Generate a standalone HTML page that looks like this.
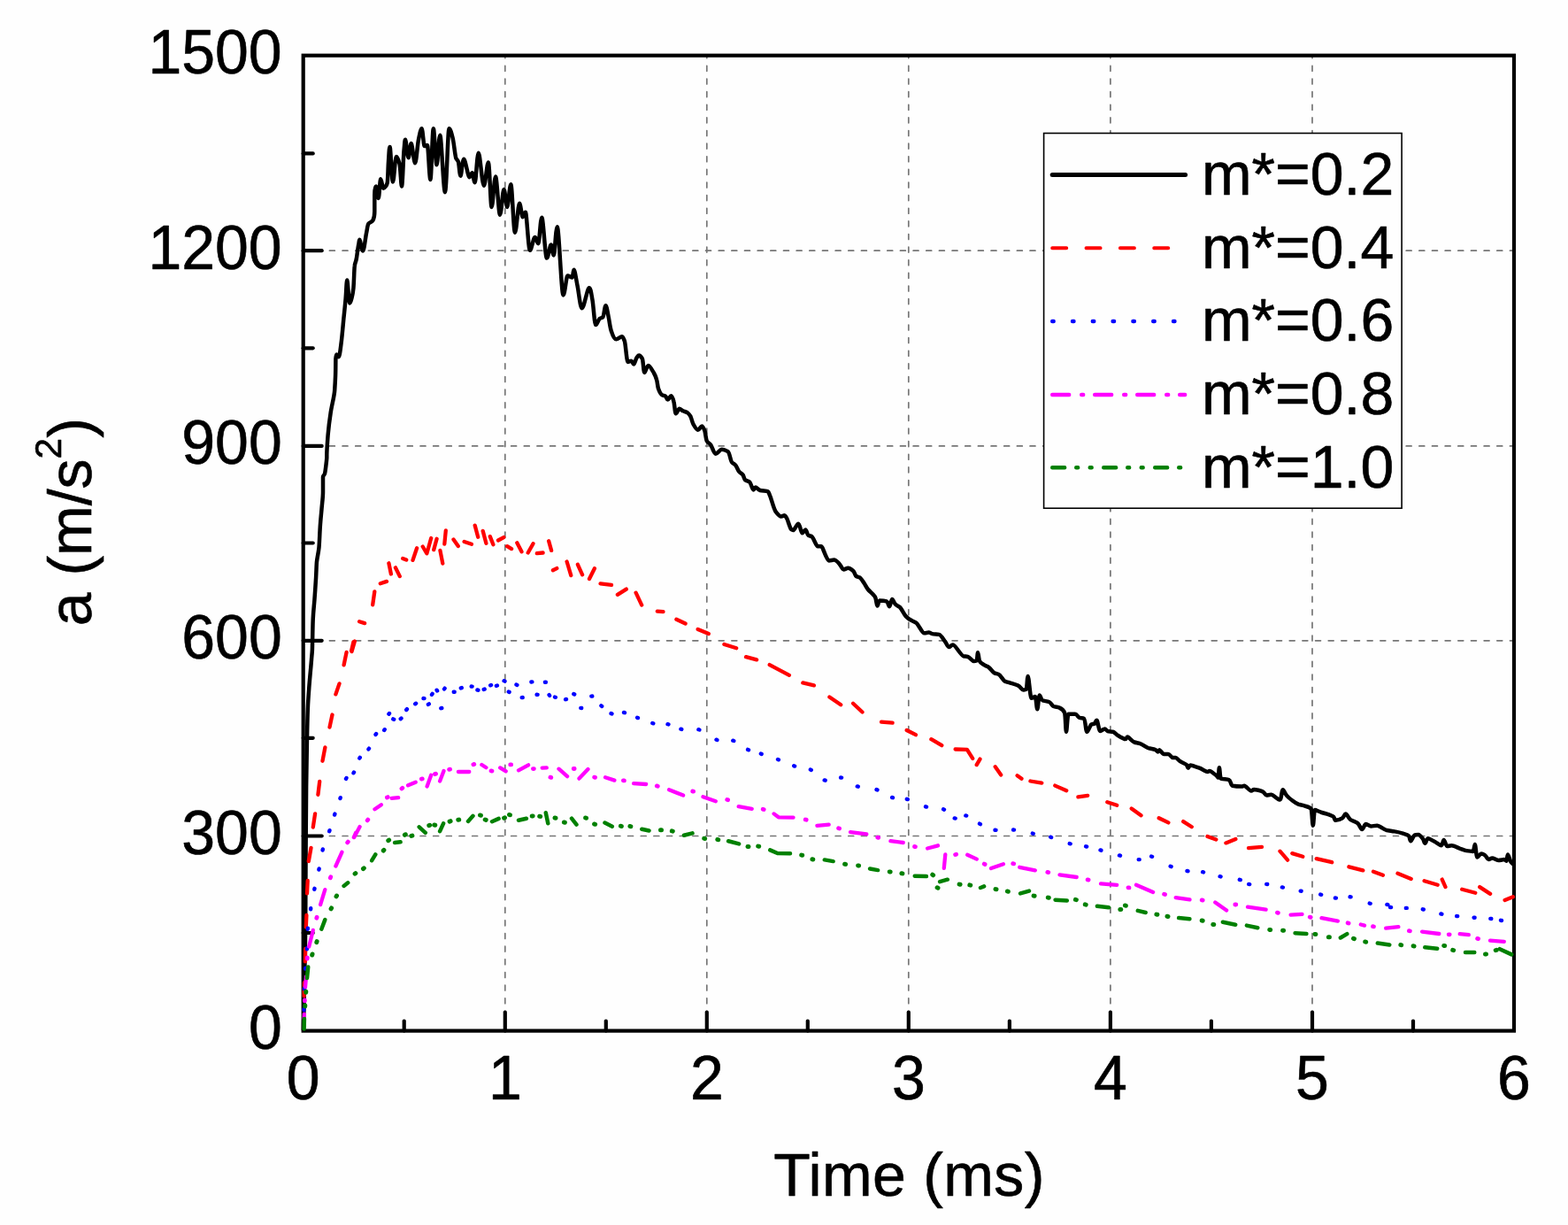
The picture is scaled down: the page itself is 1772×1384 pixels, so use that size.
<!DOCTYPE html>
<html lang="en"><head><meta charset="utf-8"><title>a (m/s2) vs Time (ms)</title>
<style>
html,body{margin:0;padding:0;background:#fff;}
body{width:1772px;height:1384px;overflow:hidden;}
svg{display:block;}
text{font-family:"Liberation Sans", sans-serif;font-size:68px;fill:#000;stroke:#000;stroke-width:0.6px;stroke-linejoin:round;}
.grid{stroke:#767676;stroke-width:1.7;stroke-linecap:round;fill:none;}
.gv{stroke-dasharray:5.9 8.73;stroke-dashoffset:2.95;}
.gh{stroke-dasharray:5.9 8.76;stroke-dashoffset:14.26;}
.axis{stroke:#000;stroke-width:4.2;fill:none;}
.tick{stroke:#000;stroke-width:4.2;stroke-linecap:round;fill:none;}
.curve{fill:none;stroke-linejoin:round;stroke-linecap:round;}
</style></head><body>
<svg width="1772" height="1384" viewBox="0 0 1772 1384">
<rect x="0" y="0" width="1772" height="1384" fill="#fefefe"/>
<g class="grid">
<line class="gv" x1="570.8" y1="62.7" x2="570.8" y2="1164.6"/>
<line class="gv" x1="798.8" y1="62.7" x2="798.8" y2="1164.6"/>
<line class="gv" x1="1026.8" y1="62.7" x2="1026.8" y2="1164.6"/>
<line class="gv" x1="1254.9" y1="62.7" x2="1254.9" y2="1164.6"/>
<line class="gv" x1="1483.0" y1="62.7" x2="1483.0" y2="1164.6"/>
<line class="gh" x1="342.7" y1="944.5" x2="1711.0" y2="944.5"/>
<line class="gh" x1="342.7" y1="723.8" x2="1711.0" y2="723.8"/>
<line class="gh" x1="342.7" y1="503.9" x2="1711.0" y2="503.9"/>
<line class="gh" x1="342.7" y1="283.2" x2="1711.0" y2="283.2"/>
</g>
<rect class="axis" x="342.7" y="62.7" width="1368.3" height="1101.9"/>
<g class="tick">
<line x1="456.7" y1="1164.6" x2="456.7" y2="1153.6"/>
<line x1="570.8" y1="1164.6" x2="570.8" y2="1143.6"/>
<line x1="684.8" y1="1164.6" x2="684.8" y2="1153.6"/>
<line x1="798.8" y1="1164.6" x2="798.8" y2="1143.6"/>
<line x1="912.8" y1="1164.6" x2="912.8" y2="1153.6"/>
<line x1="1026.8" y1="1164.6" x2="1026.8" y2="1143.6"/>
<line x1="1140.9" y1="1164.6" x2="1140.9" y2="1153.6"/>
<line x1="1254.9" y1="1164.6" x2="1254.9" y2="1143.6"/>
<line x1="1368.9" y1="1164.6" x2="1368.9" y2="1153.6"/>
<line x1="1483.0" y1="1164.6" x2="1483.0" y2="1143.6"/>
<line x1="1597.0" y1="1164.6" x2="1597.0" y2="1153.6"/>
<line x1="342.7" y1="1054.0" x2="353.7" y2="1054.0"/>
<line x1="342.7" y1="944.5" x2="363.7" y2="944.5"/>
<line x1="342.7" y1="833.8" x2="353.7" y2="833.8"/>
<line x1="342.7" y1="723.8" x2="363.7" y2="723.8"/>
<line x1="342.7" y1="613.5" x2="353.7" y2="613.5"/>
<line x1="342.7" y1="503.9" x2="363.7" y2="503.9"/>
<line x1="342.7" y1="393.3" x2="353.7" y2="393.3"/>
<line x1="342.7" y1="283.2" x2="363.7" y2="283.2"/>
<line x1="342.7" y1="173.4" x2="353.7" y2="173.4"/>
</g>
<g class="curve">
<path d="M342.9 1163.5C342.9 1163.5 343.0 1157.5 343.2 1151.6C343.4 1145.7 344.0 1110.7 344.4 1092.4C344.7 1074.0 345.1 1064.1 345.2 1041.6C345.4 1019.0 345.4 982.3 345.6 956.9C345.7 931.5 345.9 909.0 346.1 889.3C346.3 869.6 346.6 853.2 346.9 838.5C347.2 823.8 347.4 812.0 347.8 801.3C348.2 790.5 348.8 783.5 349.5 774.2C350.2 764.9 351.6 751.2 352.0 745.4C352.4 739.6 352.6 739.6 352.9 733.8C353.1 728.0 353.3 709.1 353.7 699.8C354.1 690.4 354.8 685.7 355.4 677.8C356.0 669.9 356.7 659.4 357.1 652.4C357.5 645.3 357.5 641.1 357.9 635.4C358.4 629.8 359.8 625.3 360.5 618.5C361.1 611.7 361.3 601.9 361.8 594.8C362.3 587.7 362.8 582.7 363.4 576.2C363.9 569.7 365.0 562.1 365.0 555.9C365.0 549.7 365.0 540.6 365.0 538.9C365.0 537.2 366.2 537.2 366.9 535.5C367.6 533.9 369.3 518.5 369.3 516.9C369.3 515.4 369.3 515.4 369.3 513.8C369.3 512.2 370.0 499.5 370.6 491.6C371.3 483.7 372.4 474.7 373.7 466.2C374.9 457.8 377.8 447.9 378.2 440.8C378.7 433.8 378.9 429.8 379.1 423.9C379.3 418.0 379.3 407.7 379.4 405.3C379.6 402.9 379.9 400.5 380.3 400.5C380.7 400.5 381.9 403.2 382.8 403.2C383.7 403.2 384.6 395.6 385.5 388.4C386.5 381.1 387.6 368.0 388.4 359.6C389.3 351.1 390.0 344.7 390.6 337.6C391.3 330.4 391.5 316.6 392.3 316.6C393.1 316.6 394.0 342.6 395.2 342.6C396.4 342.6 398.7 332.8 399.4 325.7C400.1 318.7 400.2 303.9 400.8 300.3C401.3 296.7 401.9 296.7 402.7 293.1C403.4 289.4 404.5 279.6 405.2 276.6C405.8 273.7 405.8 270.8 406.4 270.8C407.1 270.8 408.9 283.5 410.2 283.5C411.4 283.5 412.9 269.2 413.9 264.1C415.0 259.0 415.2 254.7 416.4 252.8C417.7 250.9 420.5 250.9 421.4 249.1C422.4 247.2 423.3 243.9 423.3 239.1C423.3 234.2 423.3 225.0 423.3 220.2C423.3 215.5 424.2 210.5 425.0 210.5C425.7 210.5 426.8 224.0 427.7 224.0C428.6 224.0 429.3 202.3 430.2 202.3C431.2 202.3 432.1 212.7 433.4 212.7C434.6 212.7 437.1 209.6 437.7 206.5C438.4 203.3 438.5 189.4 439.0 182.7C439.5 175.9 439.8 165.9 440.6 165.9C441.4 165.9 442.8 205.5 444.0 205.5C445.2 205.5 446.5 177.1 447.8 177.1C449.0 177.1 450.5 181.1 451.5 185.2C452.6 189.2 453.2 210.6 454.0 210.6C454.9 210.6 455.9 176.3 456.5 170.1C457.2 163.9 457.3 157.7 458.1 157.7C458.8 157.7 460.4 178.3 461.6 178.3C462.7 178.3 463.4 162.1 464.7 162.1C465.9 162.1 467.7 184.2 469.1 184.2C470.4 184.2 471.6 165.3 472.8 158.8C474.1 152.4 475.4 145.2 476.6 145.2C477.7 145.2 478.7 165.1 479.7 165.1C480.8 165.1 481.8 163.9 482.9 163.9C484.0 163.9 485.2 203.0 486.4 203.0C487.5 203.0 488.6 145.2 489.8 145.2C490.9 145.2 492.3 186.2 493.5 186.2C494.8 186.2 495.7 152.7 497.3 152.7C498.8 152.7 501.2 217.2 502.9 217.2C504.6 217.2 506.1 145.2 507.5 145.2C509.0 145.2 510.4 150.8 511.7 156.3C513.0 161.9 514.4 177.0 515.4 178.9C516.5 180.8 517.1 180.8 517.9 182.7C518.8 184.5 519.4 198.7 520.5 198.7C521.5 198.7 522.5 179.7 524.2 179.7C525.9 179.7 528.9 200.2 530.5 200.2C532.0 200.2 532.6 195.2 533.6 195.2C534.7 195.2 535.5 206.2 536.7 206.2C537.9 206.2 539.1 172.8 540.8 172.8C542.4 172.8 544.9 209.7 546.8 209.7C548.6 209.7 550.3 183.4 551.8 183.4C553.3 183.4 554.3 233.9 555.6 233.9C557.0 233.9 558.5 199.6 560.0 199.6C561.6 199.6 563.5 242.7 565.0 242.7C566.6 242.7 568.1 214.0 569.4 214.0C570.8 214.0 571.9 233.9 573.2 233.9C574.5 233.9 575.9 208.3 577.3 208.3C578.8 208.3 580.3 262.7 582.0 262.7C583.6 262.7 585.5 229.7 587.0 229.7C588.4 229.7 589.6 245.2 590.7 245.2C591.9 245.2 592.5 239.7 593.9 239.7C595.2 239.7 597.1 282.8 598.9 282.8C600.6 282.8 602.9 268.0 604.5 268.0C606.1 268.0 607.0 275.3 608.3 275.3C609.6 275.3 610.7 245.7 612.3 245.7C613.9 245.7 616.2 291.6 617.9 291.6C619.7 291.6 621.4 276.5 622.7 276.5C624.0 276.5 624.6 288.4 625.8 288.4C627.0 288.4 628.0 256.3 629.8 256.3C631.6 256.3 634.5 333.5 636.5 333.5C638.4 333.5 639.8 311.6 641.5 311.6C643.1 311.6 645.4 313.5 646.5 313.5C647.6 313.5 647.6 304.7 648.6 304.7C649.6 304.7 651.0 315.3 652.5 322.5C654.1 329.8 655.6 348.2 657.8 348.2C660.0 348.2 663.8 325.2 665.7 325.2C667.6 325.2 668.2 332.0 669.5 338.8C670.7 345.6 671.9 367.0 673.2 367.0C674.6 367.0 676.2 361.1 677.6 360.1C678.9 359.2 680.2 359.2 681.4 358.2C682.5 357.3 683.4 345.2 684.5 345.2C685.5 345.2 686.6 352.8 687.6 357.6C688.7 362.4 689.3 369.6 690.8 373.9C692.2 378.2 694.4 383.3 696.4 383.3C698.4 383.3 701.1 380.2 702.7 380.2C704.2 380.2 704.6 382.7 705.8 385.2C706.9 387.7 708.3 409.0 709.5 409.0C710.8 409.0 712.2 407.7 713.3 407.7C714.4 407.7 715.1 411.5 716.2 411.5C717.2 411.5 718.6 405.2 719.6 404.0C720.6 402.8 721.0 401.6 722.1 401.6C723.1 401.6 724.8 403.4 725.8 405.2C726.9 407.1 727.2 420.9 728.4 420.9C729.5 420.9 731.0 412.9 732.7 412.9C734.5 412.9 737.4 418.8 739.0 421.5C740.6 424.2 741.3 426.1 742.1 429.1C743.0 432.0 743.1 436.3 744.0 439.1C745.0 441.9 746.4 445.0 747.8 446.0C749.1 446.9 751.0 446.9 752.2 447.8C753.3 448.8 753.6 451.6 754.7 451.6C755.7 451.6 757.3 447.3 758.4 447.3C759.6 447.3 760.7 450.8 761.5 454.1C762.4 457.4 762.8 467.3 763.8 467.3C764.9 467.3 766.5 461.8 767.8 461.8C769.1 461.8 770.1 463.4 771.6 464.1C773.0 464.9 775.1 465.1 776.6 466.0C778.1 467.0 779.2 468.2 780.4 470.4C781.5 472.6 782.1 476.6 783.5 479.2C784.9 481.7 787.2 485.7 788.8 485.7C790.4 485.7 791.9 481.4 793.2 481.4C794.4 481.4 795.3 483.9 796.3 486.3C797.2 488.8 797.7 496.1 798.8 498.2C799.9 500.4 801.5 500.4 803.2 502.6C804.8 504.8 806.7 512.7 808.8 512.7C810.9 512.7 813.4 507.8 815.7 507.8C818.0 507.8 820.7 509.0 822.6 510.1C824.5 511.3 825.5 520.2 827.0 522.1C828.5 523.9 830.0 524.0 831.4 525.8C832.7 527.6 833.8 530.9 835.1 532.7C836.5 534.5 838.4 534.9 839.5 536.5C840.7 538.0 840.8 540.9 842.0 542.1C843.3 543.4 845.5 543.4 847.0 544.6C848.6 545.9 850.3 553.4 851.4 553.4C852.6 553.4 852.7 550.4 853.9 550.4C855.2 550.4 856.7 553.4 859.0 554.0C861.2 554.6 866.5 554.6 867.7 555.3C869.0 555.9 869.0 557.8 870.2 560.3C871.5 562.8 874.4 575.0 876.5 577.8C878.6 580.6 881.1 583.5 882.8 583.5C884.4 583.5 885.5 582.2 886.5 582.2C887.6 582.2 887.8 583.8 889.0 585.3C890.3 586.9 892.8 597.2 894.0 597.9C895.3 598.5 895.3 599.1 896.5 599.1C897.8 599.1 900.5 591.7 902.2 591.7C903.9 591.7 905.2 602.3 906.6 602.3C907.9 602.3 909.2 598.6 910.3 598.6C911.5 598.6 912.3 604.1 913.5 604.8C914.6 605.4 915.4 605.4 917.2 606.0C919.0 606.6 922.3 617.3 924.1 617.3C925.9 617.3 927.2 617.3 927.9 617.3C928.5 617.3 928.5 617.8 929.2 618.4C929.9 618.9 934.5 633.4 936.7 633.4C938.9 633.4 940.6 632.6 942.5 632.6C944.5 632.6 946.6 634.9 948.4 636.8C950.2 638.6 951.7 643.4 953.4 643.4C955.1 643.4 956.6 641.8 958.4 641.8C960.2 641.8 962.7 643.6 964.3 645.1C965.8 646.6 966.4 650.1 967.6 651.0C968.9 651.8 970.3 651.8 971.8 652.6C973.3 653.5 975.3 657.1 976.8 659.3C978.3 661.5 978.9 663.3 981.0 666.0C983.1 668.6 988.2 672.1 989.3 675.2C990.4 678.2 990.7 684.4 991.5 684.4C992.3 684.4 992.9 678.5 994.3 678.5C995.8 678.5 1000.2 678.9 1001.9 679.4C1003.5 679.8 1004.1 685.2 1005.2 685.2C1006.3 685.2 1007.1 677.0 1008.2 677.0C1009.3 677.0 1010.4 681.2 1011.9 682.7C1013.3 684.2 1014.9 684.4 1016.9 686.0C1018.8 687.7 1021.6 694.0 1023.6 696.1C1025.5 698.1 1026.6 699.0 1028.6 700.2C1030.5 701.5 1032.6 701.9 1035.3 703.6C1037.9 705.3 1042.1 715.3 1044.5 715.3C1046.8 715.3 1047.9 714.4 1049.5 714.4C1051.0 714.4 1051.7 715.7 1053.7 716.1C1055.6 716.5 1058.8 716.5 1061.2 716.9C1063.5 717.4 1066.0 722.1 1067.8 724.5C1069.7 726.8 1070.8 731.1 1072.4 731.1C1073.9 731.1 1074.7 728.6 1077.0 728.6C1079.4 728.6 1086.2 740.7 1088.7 741.2C1091.2 741.6 1091.8 741.6 1093.7 742.0C1095.7 742.4 1098.8 747.0 1100.4 747.0C1102.1 747.0 1103.1 746.6 1103.8 746.2C1104.4 745.8 1104.5 737.3 1105.1 737.3C1105.7 737.3 1106.1 744.9 1107.1 747.0C1108.1 749.1 1110.4 750.1 1112.1 751.2C1113.8 752.3 1115.2 752.4 1117.1 753.7C1119.1 754.9 1121.9 759.5 1123.8 760.4C1125.8 761.2 1126.9 761.2 1128.8 762.0C1130.8 762.9 1133.6 768.7 1135.5 769.6C1137.4 770.4 1138.0 770.4 1140.5 771.2C1143.0 772.1 1147.9 773.2 1150.5 774.6C1153.2 776.0 1154.8 779.6 1156.4 779.6C1157.9 779.6 1158.8 779.2 1159.7 778.8C1160.6 778.3 1160.8 764.0 1161.7 764.0C1162.7 764.0 1164.2 788.8 1165.6 788.8C1166.9 788.8 1168.6 787.1 1169.8 787.1C1170.9 787.1 1171.4 801.3 1172.3 801.3C1173.1 801.3 1173.8 785.4 1174.8 785.4C1175.7 785.4 1176.4 790.4 1178.1 791.3C1179.8 792.1 1183.5 792.1 1185.6 793.0C1187.7 793.8 1188.7 797.1 1190.6 798.0C1192.6 798.8 1195.2 798.8 1197.3 799.6C1199.4 800.5 1202.2 802.6 1203.2 805.5C1204.1 808.4 1204.3 826.8 1205.0 826.8C1205.7 826.8 1206.3 806.8 1207.5 806.8C1208.8 806.8 1213.0 806.8 1215.0 806.8C1217.1 806.8 1218.4 810.5 1220.0 810.9C1221.7 811.3 1223.7 811.3 1225.1 811.8C1226.5 812.2 1227.0 826.8 1228.4 826.8C1229.8 826.8 1232.0 818.9 1233.4 818.5C1234.8 818.0 1235.7 818.0 1236.8 817.6C1237.8 817.2 1238.3 813.8 1239.4 813.8C1240.5 813.8 1241.9 826.0 1243.4 826.0C1244.9 826.0 1247.1 823.5 1248.5 823.5C1249.8 823.5 1250.3 825.5 1251.8 826.0C1253.3 826.4 1255.7 826.4 1257.6 826.8C1259.6 827.2 1261.1 829.6 1263.5 831.0C1265.8 832.4 1270.6 835.1 1271.8 835.1C1273.1 835.1 1273.1 832.6 1274.3 832.6C1275.6 832.6 1279.5 837.7 1281.9 838.5C1284.2 839.3 1285.9 839.3 1288.5 840.2C1291.2 841.0 1294.9 844.3 1297.7 845.2C1300.5 846.0 1303.6 846.2 1305.2 846.9C1306.9 847.5 1307.8 849.4 1308.6 849.4C1309.4 849.4 1309.4 847.2 1310.3 847.2C1311.1 847.2 1313.6 851.9 1315.3 851.9C1316.9 851.9 1318.6 851.9 1320.3 851.9C1322.0 851.9 1323.9 856.0 1325.3 856.0C1326.7 856.0 1327.2 856.0 1328.6 856.0C1330.0 856.0 1331.6 858.8 1333.7 860.2C1335.7 861.6 1340.3 863.1 1341.2 864.4C1342.0 865.6 1342.1 867.7 1342.8 867.7C1343.5 867.7 1344.1 864.4 1345.3 864.4C1346.6 864.4 1352.2 866.5 1355.4 867.7C1358.6 869.0 1363.3 871.9 1364.5 871.9C1365.8 871.9 1365.8 871.1 1367.1 871.1C1368.3 871.1 1374.7 876.1 1375.4 876.9C1376.1 877.8 1376.3 878.6 1376.8 878.6C1377.2 878.6 1377.4 867.2 1377.9 867.2C1378.4 867.2 1378.8 878.6 1379.6 879.4C1380.4 880.3 1386.7 880.3 1388.8 881.1C1390.9 881.9 1390.9 887.3 1393.0 887.8C1395.0 888.2 1401.3 888.6 1403.0 888.6C1404.6 888.6 1404.6 887.8 1406.3 887.8C1408.0 887.8 1412.2 893.6 1413.8 893.6C1415.5 893.6 1415.5 892.0 1417.2 892.0C1418.8 892.0 1425.1 893.3 1427.2 894.5C1429.3 895.6 1429.8 898.6 1431.4 898.6C1432.9 898.6 1434.0 897.8 1436.4 897.8C1438.7 897.8 1444.7 903.6 1445.6 903.6C1446.4 903.6 1446.5 903.2 1447.2 902.8C1447.9 902.4 1448.6 892.3 1449.8 892.3C1450.9 892.3 1452.1 896.6 1453.9 898.6C1455.7 900.7 1458.4 902.8 1460.6 904.5C1462.8 906.2 1465.1 907.8 1467.3 908.7C1469.5 909.5 1471.6 909.5 1474.0 910.3C1476.3 911.2 1480.3 912.0 1481.5 913.7C1482.7 915.3 1483.1 932.7 1483.8 932.7C1484.6 932.7 1484.9 915.1 1486.0 915.1C1487.1 915.1 1490.2 916.8 1492.7 917.6C1495.2 918.5 1498.7 919.3 1501.1 920.1C1503.4 921.0 1505.7 921.5 1506.9 922.6C1508.2 923.8 1508.2 926.8 1509.4 926.8C1510.7 926.8 1515.0 925.5 1516.9 924.3C1518.8 923.1 1519.2 919.6 1520.8 919.6C1522.3 919.6 1523.8 924.2 1526.1 926.0C1528.4 927.7 1532.3 928.3 1534.5 930.2C1536.6 932.0 1537.6 936.9 1539.2 936.9C1540.7 936.9 1541.9 931.0 1543.7 931.0C1545.4 931.0 1547.4 933.5 1549.5 933.5C1551.6 933.5 1553.4 932.7 1556.2 932.7C1559.0 932.7 1562.9 936.8 1566.2 937.7C1569.5 938.5 1572.9 938.7 1576.2 939.4C1579.6 940.0 1583.6 941.0 1586.3 941.9C1588.9 942.7 1591.0 943.1 1592.1 944.4C1593.2 945.6 1593.2 950.2 1594.3 950.2C1595.4 950.2 1597.3 943.8 1598.8 943.5C1600.2 943.3 1601.4 943.0 1603.0 943.0C1604.5 943.0 1606.7 946.1 1608.0 947.7C1609.2 949.3 1609.5 952.7 1610.5 952.7C1611.5 952.7 1612.2 947.2 1613.8 947.2C1615.5 947.2 1620.5 950.5 1623.0 951.9C1625.5 953.2 1627.4 955.2 1628.9 955.2C1630.3 955.2 1630.6 948.9 1631.7 948.9C1632.8 948.9 1634.1 956.1 1635.5 956.1C1637.0 956.1 1638.2 955.2 1640.5 955.2C1642.9 955.2 1647.0 957.6 1649.7 958.6C1652.5 959.5 1654.8 960.7 1657.3 961.1C1659.8 961.5 1663.8 961.9 1664.8 961.9C1665.8 961.9 1666.0 953.9 1666.8 953.9C1667.6 953.9 1668.3 968.6 1669.5 968.6C1670.6 968.6 1672.5 964.4 1674.0 964.4C1675.4 964.4 1676.7 965.2 1678.1 966.1C1679.5 966.9 1680.9 971.1 1682.3 971.1C1683.7 971.1 1684.7 969.4 1686.5 969.4C1688.3 969.4 1690.9 971.9 1693.2 971.9C1695.4 971.9 1698.6 971.1 1699.9 971.1C1701.1 971.1 1701.7 972.8 1702.4 972.8C1703.1 972.8 1703.2 965.6 1704.0 965.6C1704.9 965.6 1706.4 972.4 1707.4 973.6C1708.3 974.9 1709.9 976.1 1709.9 976.1" stroke="#000" stroke-width="4.5"/>
<path d="M343.9 1110.1 L343.6 1125.4M345.2 1072.0 L344.9 1086.4M346.4 1034.0 L345.8 1047.5M347.7 995.0 L347.0 1009.4M351.5 957.8 L348.8 973.0M356.1 919.3 L353.8 934.5M361.2 883.0 L359.4 897.8M367.4 844.4 L364.5 859.7M375.5 807.5 L372.5 821.6M383.5 772.4 L379.4 784.4M391.6 736.9 L388.6 751.3M399.5 725.1 L397.1 735.3M400.9 724.5 L397.5 736.1M406.1 702.2 L412.1 704.1M423.3 668.4 L421.2 683.3M429.8 659.2 L437.0 656.9M439.4 636.3 L441.9 648.5M446.9 641.3 L451.8 651.1M455.2 631.0 L459.2 632.6M471.1 619.3 L466.5 632.9M477.7 617.5 L482.4 625.3 L487.2 608.0M493.6 608.8 L490.2 621.1M497.4 621.9 L500.3 636.6M503.8 599.4 L502.3 614.6M512.5 609.4 L517.8 617.0M524.6 612.0 L532.9 614.8M536.7 593.6 L540.2 606.7M545.7 599.9 L549.4 613.8M553.8 606.1 L557.4 615.2M563.0 610.5 L569.3 607.1M573.2 617.2 L578.1 620.1M584.3 613.3 L589.5 623.3M602.5 614.2 L596.7 624.5M606.8 625.2 L613.6 624.5M620.1 611.2 L623.1 621.9M624.9 644.2 L629.3 642.1M640.6 634.5 L645.3 650.1M652.9 637.8 L658.1 649.3M671.9 642.2 L666.0 654.0M678.5 659.4 L691.0 660.9M697.9 671.9 L707.8 665.6M718.6 669.7 L725.2 683.6M742.8 690.6 L749.5 691.1M764.4 699.7 L774.6 704.5M788.7 710.9 L800.8 716.1M818.4 728.0 L832.2 732.2M843.0 742.2 L855.1 745.4M869.7 751.1 L891.9 762.8M907.3 771.4 L919.9 774.4M937.4 787.5 L950.2 796.2M964.1 794.8 L974.5 804.5M996.0 815.6 L1008.6 816.7M1024.7 825.0 L1034.9 830.2M1052.4 835.2 L1064.3 842.2M1079.6 846.5 L1092.9 846.8 L1099.2 856.9M1107.5 857.6 L1103.7 864.1M1124.7 866.2 L1131.2 875.4M1149.6 876.2 L1154.5 879.7M1164.4 882.5 L1177.3 884.6M1192.3 887.6 L1205.2 893.2M1218.4 900.4 L1229.2 898.9M1251.3 906.2 L1262.2 909.8M1278.7 913.4 L1289.5 921.3M1309.7 924.2 L1320.4 929.4M1337.2 928.1 L1346.8 934.2M1364.5 945.0 L1374.3 948.6M1396.4 948.0 L1385.4 952.4M1411.0 958.1 L1426.0 956.9M1446.5 961.7 L1455.1 971.6M1460.3 964.1 L1472.3 967.8M1487.7 970.1 L1505.2 974.2M1524.4 979.3 L1540.3 983.4M1552.0 984.7 L1562.9 988.7M1579.5 986.8 L1594.7 993.0M1609.6 995.2 L1624.7 999.7M1629.7 993.6 L1633.5 1002.1M1652.2 1004.7 L1667.3 1008.8M1672.2 1002.1 L1684.1 1009.9M1700.6 1017.0 L1709.9 1013.2" stroke="#ff0000" stroke-width="4.3"/>
<path d="M343.5 1141.1L343.5 1140.1M343.9 1117.4L343.9 1116.4M345.2 1094.5L345.3 1093.6M346.9 1072.2L347.0 1071.2M347.7 1049.7L347.8 1048.7M351.1 1027.2L351.2 1026.2M355.3 1004.8L355.5 1003.8M360.4 982.5L360.6 981.5M364.6 960.5L364.8 959.5M372.2 939.2L372.5 938.2M378.1 920.6L378.4 919.6M384.4 902.1L384.7 901.2M391.0 879.9L391.5 879.0M399.5 873.3L400.0 872.5M406.3 856.7L406.8 855.9M416.4 846.5L417.0 845.7M424.5 829.9L425.1 829.1M434.2 825.0L434.7 824.2M439.4 806.7L440.0 806.0M444.3 812.4L445.2 812.8M452.7 812.2L453.5 811.6M459.2 802.0L459.9 801.2M469.2 795.3L470.1 794.7M478.5 789.0L479.5 789.1M483.9 795.9L484.8 795.4M488.0 784.8L488.6 783.9M493.6 779.7L494.1 780.5M498.3 800.2L499.3 800.0M502.0 778.5L502.6 777.7M512.7 781.8L513.7 781.8M520.8 777.4L521.8 777.1M532.7 775.5L533.6 775.6M539.4 779.5L540.4 779.7M546.7 778.9L547.7 778.6M554.2 774.3L555.1 774.0M560.9 774.8L561.9 774.5M569.6 769.2L570.5 769.7M574.7 781.6L575.6 781.9M583.5 773.5L584.4 773.9M589.7 788.1L590.7 788.0M600.4 770.5L601.4 770.4M606.6 784.8L607.6 784.9M615.9 770.8L616.9 770.8M620.6 785.1L621.1 785.9M627.0 787.6L627.9 787.8M639.1 790.2L640.0 790.0M648.3 784.0L649.2 784.5M656.3 799.9L657.2 800.0M668.3 786.6L669.3 786.5M679.4 797.3L680.2 797.9M690.5 806.1L691.5 806.4M705.0 805.0L706.0 805.2M720.1 810.8L721.0 811.1M737.3 817.0L738.3 817.3M754.5 818.2L755.5 818.4M769.4 823.7L770.3 823.9M789.4 824.2L790.4 824.5M809.5 835.7L810.4 836.0M828.3 836.7L829.3 837.0M845.1 846.9L846.0 847.3M859.8 851.6L860.7 851.9M879.0 858.0L879.9 858.3M897.2 865.3L898.1 865.6M915.9 869.5L916.8 869.9M931.7 881.4L932.7 881.7M950.1 878.5L951.1 878.6M968.8 888.4L969.8 888.7M990.5 892.1L991.5 892.4M1008.1 901.0L1009.0 901.2M1024.8 902.8L1025.8 903.1M1046.0 911.3L1047.0 911.6M1066.1 914.3L1067.0 914.7M1078.7 924.4L1079.7 924.6M1091.3 921.4L1092.2 921.6M1107.0 930.6L1107.9 931.1M1124.5 937.8L1125.5 937.9M1145.1 937.5L1146.0 937.6M1166.8 941.6L1167.8 941.8M1187.2 945.7L1188.1 946.0M1208.7 953.1L1209.7 953.3M1227.1 956.3L1228.1 956.5M1243.5 960.4L1244.4 960.7M1265.0 966.4L1266.0 966.7M1286.7 971.1L1287.7 971.1M1301.1 967.6L1302.1 967.8M1322.7 978.7L1323.6 979.1M1341.5 984.0L1342.5 984.2M1359.1 985.2L1360.1 985.4M1378.6 990.2L1379.6 990.4M1400.8 993.8L1401.8 994.1M1411.2 998.9L1412.2 999.1M1431.2 998.9L1432.2 999.0M1448.9 1002.4L1449.9 1002.6M1469.7 1006.6L1470.6 1006.7M1492.2 1010.6L1493.2 1010.8M1508.9 1014.5L1509.9 1014.6M1525.6 1013.3L1526.6 1013.4M1547.7 1020.6L1548.7 1020.8M1567.4 1021.9L1568.4 1022.1M1571.1 1025.0L1572.1 1025.1M1588.8 1025.9L1589.8 1025.9M1607.8 1027.3L1608.8 1027.5M1628.4 1032.5L1629.4 1032.7M1646.2 1035.0L1647.2 1035.1M1665.6 1036.7L1666.6 1036.8M1684.3 1037.9L1685.3 1038.0M1696.0 1039.8L1697.0 1040.0" stroke="#0000ff" stroke-width="4.4"/>
<path d="M343.8 1145.7 L343.6 1150.8M346.0 1103.4 L345.0 1115.2M353.8 1050.9 L349.2 1069.5M367.3 1005.1 L362.1 1022.1M386.4 962.8 L379.4 978.5M402.1 940.8 L399.8 946.0M400.2 946.1 L406.6 934.1M423.5 914.2 L430.9 909.2M442.6 901.9 L450.2 901.2M461.1 887.3 L469.7 883.7M482.6 888.5 L487.2 875.7M497.1 882.6 L501.5 871.0M517.9 872.0 L530.3 872.0M544.4 864.0 L549.4 867.2M565.2 867.4 L571.7 871.4M586.0 870.3 L597.1 864.3M612.7 867.7 L617.8 867.3M631.5 868.7 L641.1 877.1M664.5 869.1 L654.5 879.6M684.0 878.3 L694.4 881.6M716.1 885.2 L730.2 886.0M756.1 892.2 L772.1 898.6M794.5 900.2 L808.8 905.3M834.7 911.2 L849.7 913.8M874.6 919.4 L879.8 923.3 L896.5 923.6M923.4 932.8 L936.7 931.7M961.0 940.1 L979.3 942.4M1006.4 950.2 L1020.7 952.0M1048.1 958.5 L1060.0 955.3M1068.3 965.4 L1066.8 980.9M1093.2 965.8 L1103.8 970.6M1120.0 981.0 L1133.9 976.2M1152.2 979.8 L1169.8 983.3M1197.5 988.4 L1216.7 991.0M1244.0 998.4 L1262.2 999.9M1284.0 999.8 L1303.1 1008.0M1328.7 1014.1 L1344.5 1016.4M1373.3 1019.5 L1386.1 1028.5M1410.0 1024.7 L1430.6 1027.7M1458.6 1033.7 L1471.5 1032.9M1493.5 1037.2 L1511.9 1040.6M1537.8 1044.5 L1542.0 1045.6M1566.2 1048.7 L1580.4 1047.2M1607.1 1052.6 L1626.3 1055.0M1649.7 1055.2 L1659.8 1056.2M1684.0 1062.7 L1699.8 1063.8" stroke="#ff00ff" stroke-width="4.3"/>
<path d="M344.4 1130.9L344.4 1130.0M347.2 1083.0L347.3 1082.0M357.8 1037.3L358.1 1036.3M373.3 991.8L373.7 990.8M392.7 951.9L393.3 951.1M415.2 926.9L415.8 926.1M437.4 901.0L438.3 900.6M454.0 891.0L454.8 890.3M476.3 880.1L477.3 879.9M491.5 874.6L492.5 874.2M507.6 869.4L508.6 869.2M534.9 863.7L535.8 863.4M555.0 870.9L556.0 871.1M576.7 863.9L577.7 863.9M602.4 868.6L603.4 868.6M621.9 878.2L622.8 878.4M648.2 868.5L649.2 868.5M671.6 878.1L672.6 878.3M704.4 881.8L705.4 881.9M742.3 887.9L743.3 888.2M782.7 894.0L783.7 894.1M821.7 903.5L822.6 903.7M862.2 914.3L863.2 914.5M910.2 926.0L911.2 926.2M947.6 935.7L948.6 936.0M991.7 946.1L992.7 946.3M1033.5 956.5L1034.5 956.6M1079.6 965.5L1080.6 965.3M1112.2 976.1L1113.1 976.5M1144.7 975.7L1145.7 975.8M1183.8 985.4L1184.8 985.6M1229.1 993.9L1230.1 994.1M1275.0 1002.8L1276.0 1002.9M1315.6 1010.2L1316.6 1010.5M1358.2 1016.9L1359.2 1017.1M1395.8 1022.0L1396.8 1022.0M1443.4 1031.1L1444.4 1031.3M1480.2 1036.1L1481.2 1036.3M1523.1 1042.8L1524.1 1043.0M1551.5 1046.7L1552.5 1046.8M1592.4 1051.7L1593.4 1051.8M1637.2 1055.8L1638.2 1055.8M1669.6 1060.4L1670.6 1060.6" stroke="#ff00ff" stroke-width="4.8"/>
<path d="M343.9 1150.9 L343.6 1162.5M348.2 1092.5 L347.0 1105.0M367.3 1039.1 L363.3 1049.7M393.2 997.3 L388.6 1000.9M424.3 965.4 L420.2 972.2M446.1 952.1 L452.6 951.3M473.7 934.3 L480.8 940.8M501.1 930.3 L497.1 939.2M529.0 927.9 L534.5 921.8M556.0 928.2 L563.6 924.9M586.0 926.8 L594.9 924.7M616.8 918.2 L619.3 930.3M646.0 924.7 L651.5 931.6M683.5 929.6 L691.8 933.7M725.3 936.7 L733.5 938.5M772.9 943.8 L782.5 941.4M823.1 950.3 L835.1 953.4M870.3 960.4 L878.6 964.0 L893.0 964.2M931.8 971.4 L941.6 973.1M983.1 981.5 L992.1 983.1M1033.7 989.7 L1046.9 990.1M1062.1 996.1 L1070.8 993.7M1108.0 1003.0 L1112.1 1001.4M1153.1 1009.4 L1163.0 1006.6M1192.6 1016.7 L1205.8 1017.5M1239.9 1023.8 L1253.0 1025.3M1285.8 1028.9 L1294.7 1031.0M1332.1 1037.1 L1344.4 1038.2M1381.9 1041.8 L1396.2 1044.7M1408.9 1045.6 L1421.3 1048.2M1463.6 1054.2 L1476.4 1055.0M1514.9 1059.5 L1522.3 1055.1M1556.8 1065.6 L1570.3 1067.4M1610.3 1070.3 L1624.2 1071.7M1656.0 1076.0 L1666.3 1076.0M1694.9 1072.2 L1708.2 1078.4" stroke="#008000" stroke-width="4.5"/>
<path d="M344.7 1136.9L344.8 1135.9M345.7 1121.3L345.8 1120.3M352.7 1079.0L353.0 1078.0M357.8 1064.6L358.1 1063.6M374.1 1026.8L374.6 1025.9M380.0 1012.9L380.5 1012.0M401.1 987.2L401.8 986.6M410.5 981.5L411.3 980.8M433.3 961.0L433.9 960.3M438.8 949.6L439.6 949.1M457.4 943.3L458.3 942.8M464.9 944.4L465.9 944.1M484.8 932.6L485.7 932.3M490.8 932.0L491.8 932.2M508.1 928.1L509.1 927.7M517.8 926.3L518.7 926.1M542.5 921.1L543.5 921.2M548.2 926.0L549.2 926.4M569.6 924.2L570.5 923.8M575.5 920.6L576.5 920.7M601.2 922.0L602.2 921.9M609.7 922.2L610.7 922.4M627.0 924.0L628.0 924.2M637.4 929.0L638.4 929.2M661.6 924.1L662.6 924.2M671.6 931.0L672.6 931.3M701.4 933.3L702.4 933.4M711.9 933.6L712.9 933.7M746.5 937.8L747.5 937.8M759.3 938.9L760.3 939.1M795.7 947.3L796.7 947.4M810.8 948.6L811.8 948.7M845.0 956.5L846.0 956.6M856.7 956.1L857.7 956.3M905.7 966.1L906.7 966.3M917.9 970.8L918.8 971.0M954.6 976.2L955.6 976.4M969.6 977.9L970.6 978.0M1005.2 984.9L1006.2 985.0M1018.9 986.7L1019.9 986.9M1053.8 988.2L1054.6 988.8M1059.1 1002.8L1060.0 1003.2M1084.1 999.1L1085.1 999.3M1095.8 999.9L1096.8 1000.1M1125.0 1004.6L1126.0 1004.8M1138.4 1007.1L1139.4 1007.2M1168.1 1012.1L1169.1 1012.3M1184.3 1014.1L1185.3 1014.3M1215.4 1016.4L1216.4 1016.6M1226.3 1021.9L1227.2 1022.1M1265.8 1027.6L1266.8 1027.5M1271.4 1023.1L1272.4 1023.2M1306.9 1033.1L1307.9 1033.3M1319.0 1035.3L1320.0 1035.5M1358.2 1040.0L1359.2 1040.2M1370.8 1044.5L1371.8 1044.6M1434.7 1050.4L1435.7 1050.5M1449.6 1051.2L1450.6 1051.3M1485.9 1055.4L1486.9 1055.5M1501.4 1058.8L1502.4 1058.8M1529.5 1060.3L1530.4 1060.6M1542.7 1064.1L1543.7 1064.2M1582.8 1067.6L1583.7 1067.7M1597.1 1068.8L1598.1 1068.9M1631.7 1068.4L1632.7 1068.5M1641.7 1073.4L1642.7 1073.6M1678.5 1078.1L1679.5 1078.0M1690.2 1073.6L1691.2 1073.4" stroke="#008000" stroke-width="5.0"/>
</g>
<g text-anchor="end">
<text transform="translate(318.7 1185.0) scale(1 1.03)">0</text>
<text transform="translate(318.7 964.9) scale(1 1.03)">300</text>
<text transform="translate(318.7 744.2) scale(1 1.03)">600</text>
<text transform="translate(318.7 524.3) scale(1 1.03)">900</text>
<text transform="translate(318.7 303.6) scale(1 1.03)">1200</text>
<text transform="translate(318.7 83.1) scale(1 1.03)">1500</text>
</g>
<g text-anchor="middle">
<text transform="translate(342.7 1241.8) scale(1 1.03)">0</text>
<text transform="translate(570.8 1241.8) scale(1 1.03)">1</text>
<text transform="translate(798.8 1241.8) scale(1 1.03)">2</text>
<text transform="translate(1026.8 1241.8) scale(1 1.03)">3</text>
<text transform="translate(1254.9 1241.8) scale(1 1.03)">4</text>
<text transform="translate(1483.0 1241.8) scale(1 1.03)">5</text>
<text transform="translate(1711.0 1241.8) scale(1 1.03)">6</text>
</g>
<text transform="translate(1027.4 1351.2) scale(1 1.01)" text-anchor="middle" letter-spacing="0.35">Time (ms)</text>
<text transform="translate(102.6 707.3) rotate(-90)">a (m/s<tspan font-size="42.5px" dy="-33.3">2</tspan><tspan dy="33.3">)</tspan></text>
<rect x="1179.6" y="150.5" width="404.5" height="423.7" fill="#fefefe" stroke="#000" stroke-width="1.6"/>
<line x1="1189.2" y1="197.5" x2="1339.6" y2="197.5" stroke="#000000" stroke-width="5.0" stroke-linecap="round"/>
<text transform="translate(1357.9 219.8) scale(1 1.015)">m*=0.2</text>
<line x1="1189.2" y1="280.3" x2="1322.0" y2="280.3" stroke="#ff0000" stroke-width="4.0" stroke-linecap="round" stroke-dasharray="16 22.35"/>
<text transform="translate(1357.9 302.6) scale(1 1.015)">m*=0.4</text>
<line x1="1189.2" y1="363.0" x2="1342.0" y2="363.0" stroke="#0000ff" stroke-width="4.4" stroke-linecap="round" stroke-dasharray="1.5 21.3"/>
<text transform="translate(1357.9 385.3) scale(1 1.015)">m*=0.6</text>
<line x1="1189.2" y1="446.0" x2="1339.2" y2="446.0" stroke="#ff00ff" stroke-width="4.4" stroke-linecap="round" stroke-dasharray="19 14 2 13"/>
<text transform="translate(1357.9 468.3) scale(1 1.015)">m*=0.8</text>
<line x1="1189.2" y1="528.3" x2="1337.0" y2="528.3" stroke="#008000" stroke-width="4.4" stroke-linecap="round" stroke-dasharray="14 13 2 13.5 2 13.5"/>
<text transform="translate(1357.9 550.6) scale(1 1.015)">m*=1.0</text>
</svg></body></html>
